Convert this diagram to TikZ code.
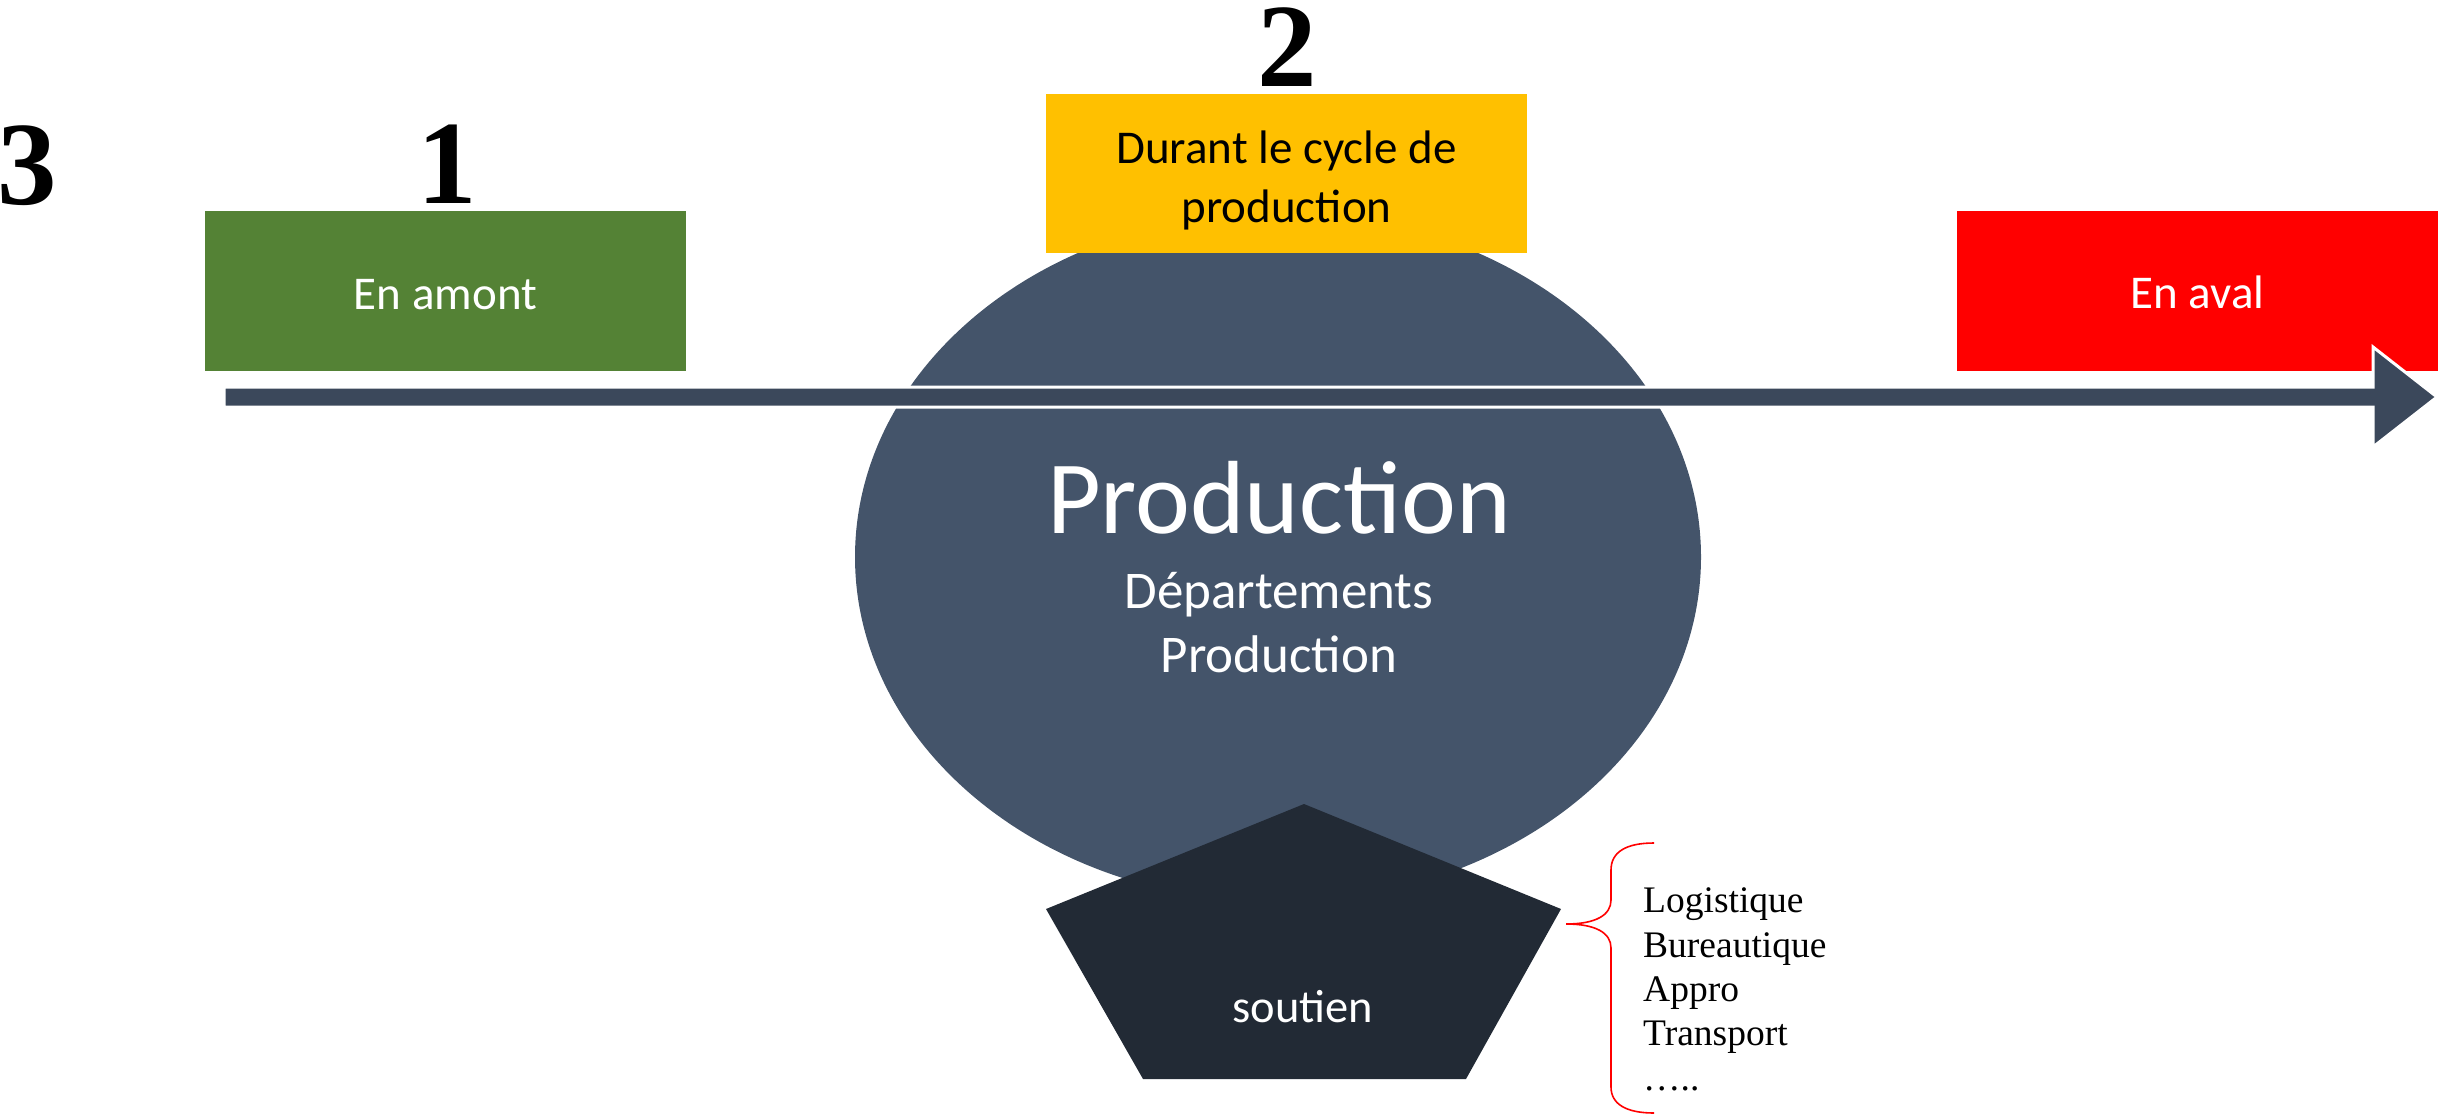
\documentclass[tikz,border=0pt]{standalone}
\usepackage{fontspec}
\usetikzlibrary{shapes.geometric,calc}
\setmainfont{Liberation Serif}
\newfontfamily\calib{Carlito}
\definecolor{boxgreen}{HTML}{548235}
\definecolor{boxyellow}{HTML}{FFC000}
\definecolor{boxred}{HTML}{FF0000}
\definecolor{ellcol}{HTML}{44546A}
\definecolor{arrcol}{HTML}{3B485B}
\definecolor{pentcol}{HTML}{222A35}
\begin{document}
\begin{tikzpicture}[x=1pt,y=-1pt,
  stagebox/.style={rectangle,minimum width=481pt,minimum height=160pt,inner sep=0pt},
  boxtxt/.style={inner sep=0pt,anchor=base,font=\calib\fontsize{47}{59}\selectfont},
  bignum/.style={inner sep=0pt,anchor=base,text height=81pt,text depth=1pt,font=\bfseries\fontsize{119}{119}\selectfont},
  listitem/.style={inner sep=0pt,anchor=base west,font=\fontsize{37.5}{44}\selectfont},
  whitetxt/.style={inner sep=0pt,anchor=base,text=white}]
\useasboundingbox (0,0) rectangle (2438,1114);
% ellipse
\node[ellipse,fill=ellcol,minimum width=846pt,minimum height=690pt,inner sep=0pt] (prod) at (1278,557) {};
% boxes
\node[stagebox,fill=boxgreen] (amont) at (445.5,291) {};
\node[stagebox,fill=boxyellow,minimum height=159pt] (durant) at (1286.5,173.5) {};
\node[stagebox,fill=boxred] (aval) at (2197.5,290.5) {};
\node[boxtxt,text=white] (amontt) at ($(amont.center)+(0,18)$) {En amont};
\node[boxtxt,text=black] (durant1) at ($(durant.center)+(0,-10)$) {Durant le cycle de};
\node[boxtxt,text=black] (durant2) at ($(durant.center)+(0,49)$) {production};
\node[boxtxt,text=white] (avalt) at ($(aval.center)+(0,18)$) {En aval};
% numbers
\node[bignum] (n3) at (27,204) {3};
\node[bignum] (n1) at (447,203) {1};
\node[bignum] (n2) at (1287,86) {2};
% arrow
\coordinate (astart) at (224,397);
\coordinate (aend) at (2437,397);
\fill[arrcol,draw=white,line width=3pt,line join=miter]
  ($(astart)+(0,-10)$) -- (2373,387) -- (2373,347) -- (aend) -- (2373,447) -- (2373,407) -- ($(astart)+(0,10)$) -- cycle;
% ellipse texts
\node[whitetxt,font=\calib\fontsize{104}{104}\selectfont] (t1) at (1279,533) {Production};
\node[whitetxt,font=\calib\fontsize{53}{53}\selectfont] (t2) at (1279,608) {Départements};
\node[whitetxt,font=\calib\fontsize{53}{53}\selectfont] (t3) at (1279,672) {Production};
% pentagon
\coordinate (pt) at (1304,804);
\coordinate (pr) at (1561,909);
\coordinate (pbr) at (1466,1079);
\coordinate (pbl) at (1143,1079);
\coordinate (pl) at (1046,909);
\fill[pentcol] (pt) -- (pr) -- (pbr) -- (pbl) -- (pl) -- cycle;
\node[whitetxt,font=\calib\fontsize{46.5}{46.5}\selectfont] (sout) at (1303,1022) {soutien};
% brace
\draw[boxred,line width=1.6pt]
  (1654,843) .. controls (1626,843) and (1611,852) .. (1611,870) -- (1611,900)
  .. controls (1611,915) and (1596,924) .. (1566,924)
  .. controls (1596,924) and (1611,933) .. (1611,948) -- (1611,1087)
  .. controls (1611,1104) and (1626,1113) .. (1654,1113);
% list
\node[listitem] (l1) at (1643,912) {Logistique};
\node[listitem] (l2) at (1643,957) {Bureautique};
\node[listitem] (l3) at (1643,1001) {Appro};
\node[listitem] (l4) at (1643,1045) {Transport};
\node[listitem] (l5) at (1643,1090) {…..};
\end{tikzpicture}
\end{document}
